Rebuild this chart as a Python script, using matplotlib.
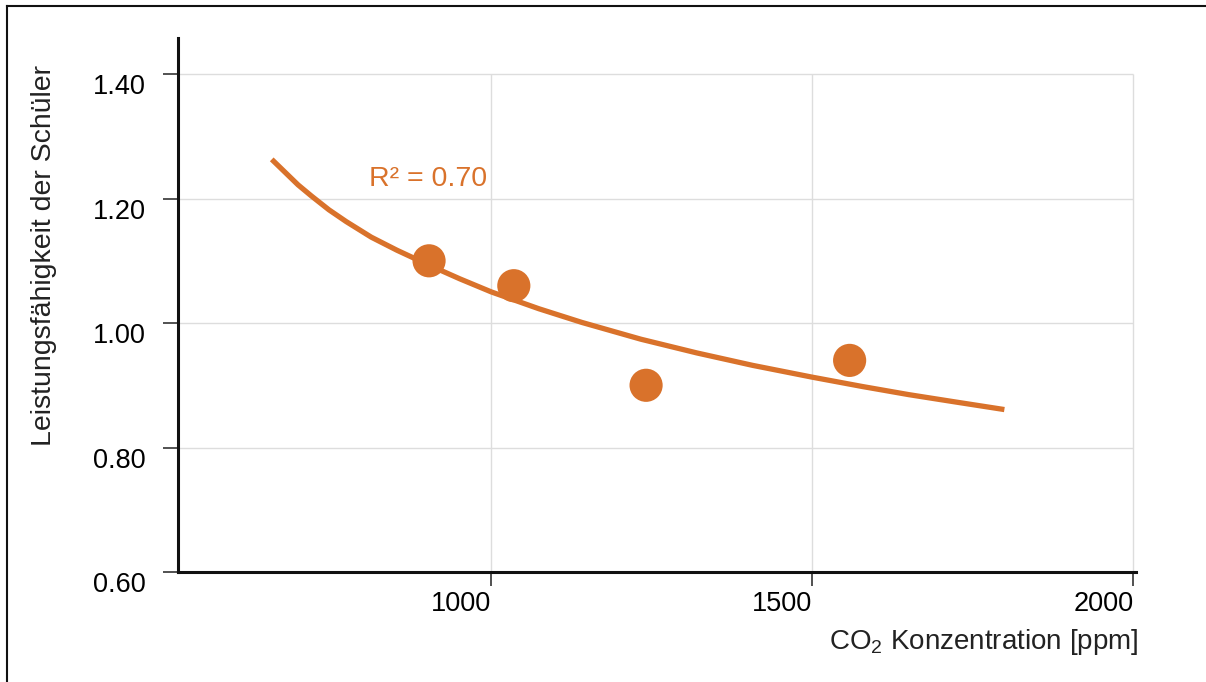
import numpy as np
import matplotlib
matplotlib.use('Agg')
import matplotlib.pyplot as plt
from matplotlib.lines import Line2D

plt.rcParams['font.family'] = ['Liberation Sans', 'DejaVu Sans']
plt.rcParams['mathtext.fontset'] = 'custom'
plt.rcParams['mathtext.rm'] = 'Liberation Sans'
plt.rcParams['mathtext.default'] = 'regular'

# Measured points: CO2 concentration vs. pupil performance
co2_ppm = [903, 1035, 1241, 1558]
performance = [1.10, 1.06, 0.90, 0.94]

# Trend line
trend_ppm = [658, 679, 699, 720, 747, 774, 813, 853, 903, 951, 1000,
             1074, 1141, 1233, 1320, 1407, 1500, 1578, 1650, 1724, 1799]
trend_perf = [1.263, 1.242, 1.222, 1.204, 1.182, 1.163, 1.138, 1.117, 1.093,
              1.071, 1.050, 1.023, 1.001, 0.974, 0.952, 0.932, 0.913, 0.898,
              0.885, 0.873, 0.861]

x_ticks = [1000, 1500, 2000]
y_ticks = [0.60, 0.80, 1.00, 1.20, 1.40]
r2_label = 'R² = 0.70'

ORANGE = '#D9722B'
GRID = '#DDDDDD'

W, H = 1206, 682
fig = plt.figure(figsize=(W / 100, H / 100), dpi=100)
ax = fig.add_axes([178 / W, 1 - 572 / H, (1136 - 178) / W, (572 - 38) / H])

ax.set_xlim(512, 2004)
ax.set_ylim(0.60, 1.458)

# Grid only up to the 1.40 line
ax.hlines(y_ticks[1:], 512, 2000, color=GRID, lw=1, zorder=0)
ax.vlines(x_ticks, 0.60, 1.40, color=GRID, lw=1, zorder=0)

ax.plot(trend_ppm, trend_perf, color=ORANGE, lw=3.8, solid_capstyle='butt',
        solid_joinstyle='round', zorder=2)
ax.scatter(co2_ppm, performance, s=570, color=ORANGE, edgecolor='none', zorder=3)
ax.text(810, 1.22, r2_label, color=ORANGE, fontsize=20.5, ha='left', va='baseline')

for side in ['top', 'right']:
    ax.spines[side].set_visible(False)
for side in ['left', 'bottom']:
    ax.spines[side].set_linewidth(2.2)
    ax.spines[side].set_color('#111111')

ax.set_xticks(x_ticks)
ax.set_xticklabels([str(t) for t in x_ticks], ha='right')
ax.set_yticks(y_ticks)
ax.set_yticklabels([f'{t:.2f}' for t in y_ticks], va='top')
ax.tick_params(axis='x', length=10, width=1.2, color='#333333', labelsize=19.5, pad=4)
ax.tick_params(axis='y', length=11, width=1.2, color='#333333', labelsize=19.5, pad=12)

fig.text(1139 / W, 1 - 642 / H, 'CO$_2$ Konzentration [ppm]', fontsize=20,
         ha='right', va='center', color='#222222')
fig.text(44 / W, 1 - 256 / H, 'Leistungsfähigkeit der Schüler', fontsize=20.5,
         rotation=90, ha='center', va='center', color='#222222')

# Frame lines at top and left of the picture
fig.add_artist(Line2D([7 / W, 1], [1 - 6 / H, 1 - 6 / H], color='#111111', lw=1.5))
fig.add_artist(Line2D([7 / W, 7 / W], [0, 1 - 6 / H], color='#111111', lw=1.5))

fig.savefig('out.png', dpi=100)
